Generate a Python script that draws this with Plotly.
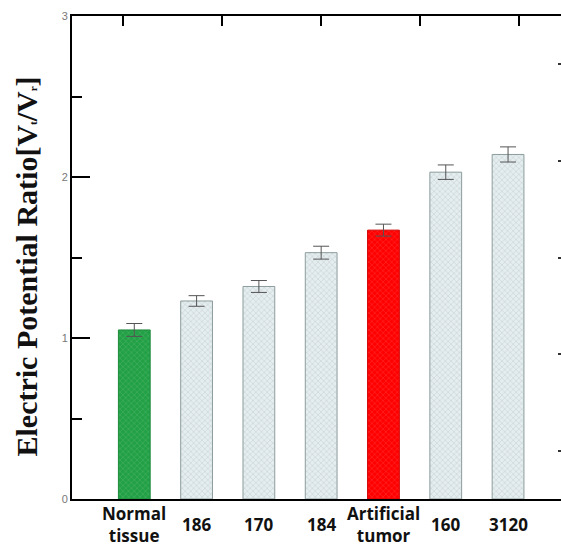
import plotly.graph_objects as go

categories = ["Normal tissue", "186", "170", "184", "Artificial tumor", "160", "3120"]
tick_labels = ["Normal<br>tissue", "186", "170", "184", "Artificial<br>tumor", "160", "3120"]
values = [1.05, 1.23, 1.32, 1.53, 1.67, 2.03, 2.14]
errors = [0.04, 0.033, 0.037, 0.04, 0.037, 0.045, 0.047]
fill_colors = ["#22a045", "#e4edef", "#e4edef", "#e4edef", "#ff0000", "#e4edef", "#e4edef"]
line_colors = ["#1d8a3a", "#8c9c9c", "#8c9c9c", "#8c9c9c", "#d00000", "#8c9c9c", "#8c9c9c"]
pattern_fg = ["#22a045", "#d3dcde", "#d3dcde", "#d3dcde", "#ff0000", "#d3dcde", "#d3dcde"]

x_idx = list(range(len(categories)))

fig = go.Figure()
fig.add_trace(go.Bar(
    x=x_idx, y=values, width=0.51,
    marker=dict(color=fill_colors, line=dict(color=line_colors, width=1),
                pattern=dict(shape="x", size=4, solidity=0.1, fgcolor=pattern_fg,
                             fillmode="overlay")),
    error_y=dict(type="data", array=errors, visible=True, color="#555555",
                 thickness=1, width=8),
    showlegend=False,
))

fig.add_trace(go.Scatter(x=[None], y=[None], xaxis="x2", yaxis="y2",
                         showlegend=False, hoverinfo="skip"))

for i, lab in enumerate(tick_labels):
    fig.add_annotation(x=i, y=0, xref="x", yref="paper", text="<b>" + lab + "</b>",
                       showarrow=False, yanchor="middle", yshift=-25,
                       font=dict(family="Open Sans", size=17, color="#111111"))

title_text = ("<b>Electric Potential Ratio[V<span style='font-size:11px'>t</span>"
              "/V<span style='font-size:11px'>r</span>]</b>")
fig.add_annotation(x=0, y=0.5, xref="paper", yref="paper", text=title_text,
                   textangle=-90, showarrow=False, xanchor="center", yanchor="middle",
                   xshift=-46, yshift=-9,
                   font=dict(family="Liberation Serif", size=30, color="#111111"))

fig.update_layout(
    width=561, height=548,
    margin=dict(l=72, r=0, t=16, b=49),
    paper_bgcolor="white", plot_bgcolor="white",
    xaxis=dict(range=[-1, 6.85], showticklabels=False, ticks="", showgrid=False,
               showline=True, linecolor="black", linewidth=2, zeroline=False),
    xaxis2=dict(range=[0, 4.94], overlaying="x", side="top", showticklabels=False,
                ticks="inside", ticklen=10, tickwidth=2, tickcolor="black",
                tick0=0.515, dtick=1, showgrid=False, showline=True,
                linecolor="black", linewidth=2, zeroline=False),
    yaxis=dict(range=[0, 3], tickvals=[0, 1, 2, 3], ticktext=["0", "1", "2", "3"],
               ticks="inside", ticklen=18, tickwidth=2, tickcolor="black",
               minor=dict(tickvals=[0.5, 1.5, 2.5], ticks="inside", ticklen=10,
                          tickwidth=2, tickcolor="black"),
               showgrid=False, showline=True, linecolor="black", linewidth=2,
               zeroline=False,
               tickfont=dict(family="Liberation Sans", size=11, color="#777777")),
    yaxis2=dict(range=[0, 3], overlaying="y", side="right", anchor="x",
                tickvals=[0.3, 0.9, 1.5, 2.1, 2.7], ticks="inside", ticklen=3,
                tickwidth=2, tickcolor="#333333", showticklabels=False,
                showgrid=False, showline=False, zeroline=False),
)

fig.write_html("out.html")
